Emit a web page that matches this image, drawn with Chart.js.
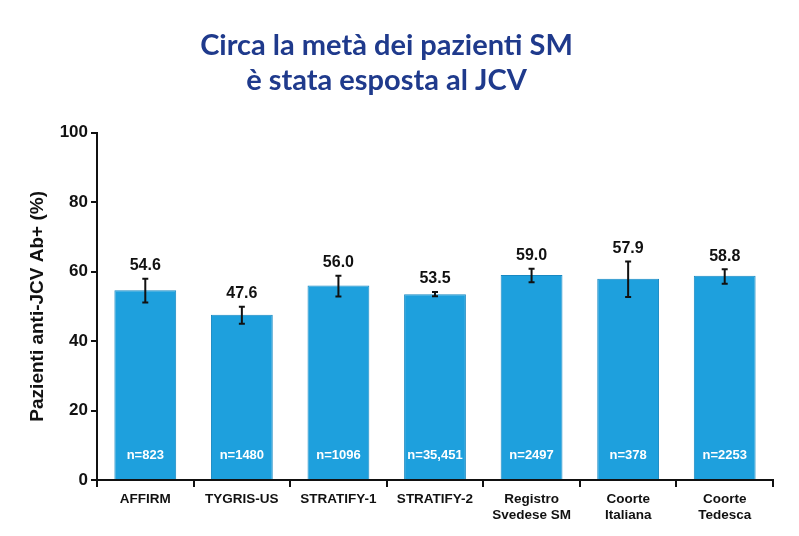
<!DOCTYPE html>
<html><head><meta charset="utf-8">
<script src="https://cdn.jsdelivr.net/npm/chart.js@4"></script>
<style>html,body{margin:0;padding:0;background:#fff}#wrap{width:799px;height:536px}</style>
</head><body><div id="wrap"><canvas id="c" width="799" height="536"></canvas></div>
<script>
const categories = [["AFFIRM"],["TYGRIS-US"],["STRATIFY-1"],["STRATIFY-2"],["Registro","Svedese SM"],["Coorte","Italiana"],["Coorte","Tedesca"]];
const values = [54.6, 47.6, 56.0, 53.5, 59.0, 57.9, 58.8];
const errLow = [51.1, 45.0, 52.8, 52.9, 56.9, 52.7, 56.5];
const errHigh = [57.9, 49.9, 58.8, 54.1, 60.8, 62.9, 60.7];
const sampleLabels = ["n=823","n=1480","n=1096","n=35,451","n=2497","n=378","n=2253"];
const yTicks = [0,20,40,60,80,100];

const barPlugin = {
  id:'extras',
  afterDatasetsDraw(chart){
    const ctx = chart.ctx, y = chart.scales.y, meta = chart.getDatasetMeta(0);
    ctx.save();
    meta.data.forEach((bar,i)=>{
      const x = bar.x;
      const yh = y.getPixelForValue(errHigh[i]), yl = y.getPixelForValue(errLow[i]);
      ctx.strokeStyle = '#111'; ctx.lineWidth = 2;
      ctx.beginPath(); ctx.moveTo(x,yh); ctx.lineTo(x,yl);
      ctx.moveTo(x-3,yh); ctx.lineTo(x+3,yh);
      ctx.moveTo(x-3,yl); ctx.lineTo(x+3,yl); ctx.stroke();
      ctx.fillStyle = '#111';
      ctx.font = 'bold 16px "Liberation Sans", Arial, sans-serif';
      ctx.textAlign = 'center'; ctx.textBaseline = 'bottom';
      ctx.fillText(values[i].toFixed(1), x, yh - 5);
      ctx.fillStyle = '#fff';
      ctx.font = 'bold 13px "Liberation Sans", Arial, sans-serif';
      ctx.textBaseline = 'middle';
      ctx.fillText(sampleLabels[i], x, y.getPixelForValue(7.2));
    });
    ctx.restore();
  }
};

new Chart(document.getElementById('c'), {
  type:'bar',
  data:{labels:categories, datasets:[{data:values, backgroundColor:'#1ea0dd', borderColor:'#1788c2', borderWidth:{left:1,right:1,top:1,bottom:0}, barPercentage:0.64, categoryPercentage:1}]},
  options:{
    responsive:false, animation:false,
    layout:{padding:{left:0,right:26,top:0,bottom:0}},
    plugins:{
      legend:{display:false}, tooltip:{enabled:false},
      title:{display:true, text:["Circa la metà dei pazienti SM","è stata esposta al JCV"], color:'#1f3a8c',
        font:{family:'Lato, "Open Sans", sans-serif', size:29, weight:'bold', lineHeight:1.2}, padding:{top:28,bottom:35}}
    },
    scales:{
      x:{
        grid:{display:true, drawOnChartArea:false, drawTicks:true, tickLength:7, offset:true, color:'#111', lineWidth:2},
        border:{display:true, color:'#111', width:2},
        ticks:{color:'#111', font:{family:'"Liberation Sans", Arial, sans-serif', size:13.5, weight:'bold', lineHeight:1.2}, maxRotation:0, autoSkip:false, padding:4},
        afterFit(s){ s.height = 56; }
      },
      y:{
        min:0, max:100,
        afterBuildTicks(s){ s.ticks = yTicks.map(v=>({value:v})); },
        grid:{display:true, drawOnChartArea:false, drawTicks:true, tickLength:6, color:'#111', lineWidth:2},
        border:{display:true, color:'#111', width:2},
        ticks:{color:'#111', font:{family:'"Liberation Sans", Arial, sans-serif', size:17, weight:'bold'}, padding:3},
        title:{display:true, text:'Pazienti anti-JCV Ab+ (%)', color:'#111', font:{family:'"Liberation Sans", Arial, sans-serif', size:19, weight:'bold'}, padding:{top:26,bottom:6}},
        afterFit(s){ s.width = 97; }
      }
    }
  },
  plugins:[barPlugin]
});
</script></body></html>
